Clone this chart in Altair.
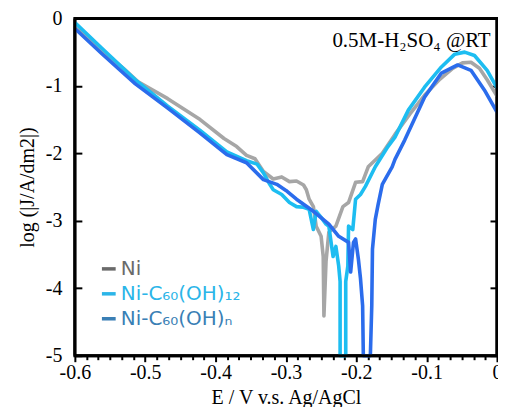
import altair as alt
import pandas as pd

names = ["Ni", "Ni-C₆₀(OH)₁₂", "Ni-C₆₀(OH)ₙ"]
line_colors = ["#A6A6A6", "#1DBDF1", "#2B6CEC"]
legend_colors = ["#6A6A6A", "#2BB5E8", "#3A7FB5"]

ni_E = [-0.600, -0.562, -0.531, -0.510, -0.468, -0.422, -0.388, -0.370, -0.356, -0.344,
        -0.332, -0.318, -0.306, -0.295, -0.285, -0.275, -0.271, -0.267, -0.261, -0.257,
        -0.250, -0.247, -0.246, -0.243, -0.239, -0.229, -0.219, -0.211, -0.201, -0.191,
        -0.183, -0.163, -0.145, -0.124, -0.103, -0.081, -0.063, -0.049, -0.037, -0.025,
        -0.014, 0.000]
ni_J = [-0.09, -0.47, -0.74, -0.94, -1.19, -1.50, -1.78, -1.90, -2.03, -2.08,
        -2.27, -2.38, -2.35, -2.42, -2.41, -2.47, -2.54, -2.68, -2.79, -3.08,
        -3.23, -3.53, -4.41, -3.60, -3.17, -3.08, -2.79, -2.73, -2.43, -2.42,
        -2.20, -2.00, -1.72, -1.42, -1.14, -0.90, -0.74, -0.66, -0.65, -0.74,
        -0.91, -1.15]

oh12_E = [-0.600, -0.562, -0.514, -0.468, -0.422, -0.384, -0.356, -0.341, -0.332, -0.323,
          -0.318, -0.306, -0.295, -0.285, -0.275, -0.267, -0.261, -0.257, -0.250, -0.243,
          -0.239, -0.233, -0.229, -0.225, -0.223, -0.223, -0.215, -0.215, -0.212, -0.211,
          -0.205, -0.201, -0.194, -0.187, -0.173, -0.155, -0.145, -0.126, -0.103, -0.079,
          -0.060, -0.046, -0.032, -0.014, 0.000]
oh12_J = [-0.06, -0.44, -0.91, -1.30, -1.66, -1.98, -2.11, -2.16, -2.29, -2.46,
          -2.54, -2.61, -2.73, -2.79, -2.80, -2.83, -3.13, -2.86, -2.95, -3.05,
          -3.08, -3.53, -3.38, -3.67, -3.90, -5.00, -5.00, -3.90, -3.67, -3.08,
          -3.13, -2.68, -2.61, -2.49, -2.20, -1.90, -1.76, -1.36, -1.02, -0.72,
          -0.53, -0.50, -0.55, -0.77, -1.03]

ohn_E = [-0.600, -0.562, -0.514, -0.468, -0.422, -0.384, -0.356, -0.332, -0.313, -0.300,
         -0.285, -0.261, -0.239, -0.225, -0.211, -0.208, -0.204, -0.201, -0.197, -0.194,
         -0.191, -0.190, -0.180, -0.178, -0.177, -0.173, -0.169, -0.163, -0.149, -0.145,
         -0.131, -0.103, -0.079, -0.056, -0.037, -0.018, 0.000]
ohn_J = [-0.15, -0.52, -0.97, -1.33, -1.70, -2.02, -2.14, -2.39, -2.46, -2.55,
         -2.68, -2.86, -3.05, -3.23, -3.32, -3.76, -3.32, -3.27, -3.57, -3.86,
         -4.26, -5.00, -5.00, -4.26, -3.42, -2.98, -2.76, -2.46, -2.20, -2.09,
         -1.80, -1.17, -0.81, -0.69, -0.77, -1.06, -1.39]

x_ticks = [round(-0.6 + i / 60, 4) for i in range(37)]
y_ticks = [0, -1, -2, -3, -4, -5]

note_text = ["0.5M-H₂SO₄ @RT"]
note_E = [-0.009]
note_J = [-0.33]

# plot frame bars (top, bottom, left, right), straddling the axis limits
frame_E = [-0.6, -0.6, -0.6021, -0.0021]
frame_E2 = [0.0, 0.0, -0.5979, 0.0021]
frame_J = [0.022, -4.978, -5.0, -5.0]
frame_J2 = [-0.022, -5.022, 0.0, 0.0]

rows = []
for name, es, js in zip(names, [ni_E, oh12_E, ohn_E], [ni_J, oh12_J, ohn_J]):
    for i, (e, j) in enumerate(zip(es, js)):
        rows.append({"series": name, "E": e, "J": j, "idx": i})
df = pd.DataFrame(rows)
note_df = pd.DataFrame({"text": note_text, "E": note_E, "J": note_J})
frame_df = pd.DataFrame({"E": frame_E, "E2": frame_E2, "J": frame_J, "J2": frame_J2})

W, H = 423, 338

xscale = alt.Scale(domain=[-0.6, 0], nice=False, zero=False)
yscale = alt.Scale(domain=[-5, 0], nice=False, zero=False)

label_expr = (f"datum.value == '{names[0]}' ? '{legend_colors[0]}' : "
              f"datum.value == '{names[1]}' ? '{legend_colors[1]}' : '{legend_colors[2]}'")

SERIF = "Liberation Serif"
is_major = "abs(datum.value*10 - round(datum.value*10)) < 0.001"

legend_layer = alt.Chart(df).mark_line(strokeWidth=1).encode(
    x=alt.X("E:Q", scale=xscale, axis=None),
    y=alt.Y("J:Q", scale=yscale, axis=alt.Axis(
        orient="right", offset=-7, tickSize=7, tickWidth=2, tickColor="black",
        labels=False, domain=False, grid=False, title=None, values=y_ticks)),
    color=alt.Color("series:N", scale=alt.Scale(domain=names, range=legend_colors),
                    legend=alt.Legend(
                        orient="none", legendX=24, legendY=241, title=None,
                        symbolType="stroke", symbolStrokeWidth=3.5, symbolSize=190,
                        labelFont="DejaVu Sans", labelFontSize=20,
                        labelColor={"expr": label_expr}, rowPadding=5,
                        labelOffset=2, padding=0)),
    order="idx:Q",
)

lines = alt.Chart(df).mark_line(strokeWidth=3.6, strokeJoin="round").encode(
    x=alt.X("E:Q", scale=xscale, axis=alt.Axis(
        orient="bottom", values=x_ticks, title="E / V v.s. Ag/AgCl",
        labelExpr=f"{is_major} ? (datum.value == 0 ? '0' : '-0.' + round(-datum.value*10)) : ''",
        tickSize={"condition": {"test": is_major, "value": 6}, "value": 4},
        tickWidth=2, tickColor="black", labelOverlap=False, labelFlush=False,
        labelFont=SERIF, labelFontSize=20, labelColor="black", labelPadding=1,
        titleFont=SERIF, titleFontSize=20, titleFontWeight="normal", titleColor="black",
        titlePadding=5, domain=False, grid=False)),
    y=alt.Y("J:Q", scale=yscale, axis=alt.Axis(
        orient="left", offset=-7, tickSize=7, tickWidth=2, tickColor="black",
        values=y_ticks, labelExpr="datum.value == 0 ? '0' : '-' + (-datum.value)",
        labelFont=SERIF, labelFontSize=20, labelColor="black", labelPadding=13,
        title="log (|J/A/dm2|)", titleFont=SERIF, titleFontSize=20,
        titleFontWeight="normal", titleColor="black", titlePadding=8,
        domain=False, grid=False)),
    color=alt.Color("series:N", scale=alt.Scale(domain=names, range=line_colors), legend=None),
    order="idx:Q",
)

note = alt.Chart(note_df).mark_text(
    align="right", baseline="middle", font=SERIF, fontSize=21, color="black"
).encode(
    x=alt.X("E:Q", scale=xscale, axis=None),
    y=alt.Y("J:Q", scale=yscale, axis=None),
    text="text:N",
)

frame = alt.Chart(frame_df).mark_rect(color="black", opacity=1).encode(
    x=alt.X("E:Q", scale=xscale, axis=None),
    x2="E2:Q",
    y=alt.Y("J:Q", scale=yscale, axis=None),
    y2="J2:Q",
)

chart = alt.layer(legend_layer, lines, note, frame).resolve_scale(
    color="independent"
).resolve_axis(x="independent", y="independent").properties(
    width=W, height=H,
    autosize=alt.AutoSizeParams(type="none"),
    padding={"left": 67, "top": 10, "right": 1, "bottom": 51},
).configure_view(stroke="black", strokeWidth=3)

chart.save("out.html", embed_options={"renderer": "svg", "actions": False})
